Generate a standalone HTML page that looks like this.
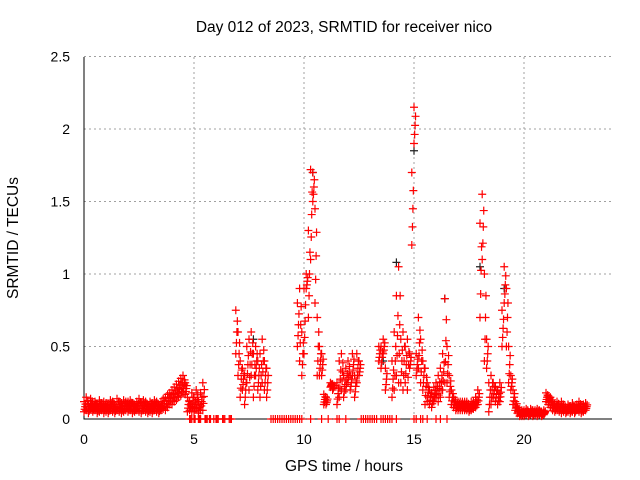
<!DOCTYPE html>
<html><head><meta charset="utf-8"><style>
body{margin:0;background:#fff}
svg{display:block;font-family:"Liberation Sans",sans-serif}
</style></head><body>
<svg id="chart" width="640" height="480" viewBox="0 0 640 480">
<rect width="640" height="480" fill="#fff"/>
<text x="344" y="32" font-size="15.5" text-anchor="middle" fill="#000">Day 012 of 2023, SRMTID for receiver nico</text>
<text x="344" y="471" font-size="15.5" text-anchor="middle" fill="#000">GPS time / hours</text>
<text x="18" y="238" font-size="15.5" text-anchor="middle" fill="#000" transform="rotate(-90 18 238)">SRMTID / TECUs</text>
<g id="grid"></g>
<g id="axes"></g>
<g id="marks"></g>
</svg>
<script>
const xTicks=[0,5,10,15,20];
const yTicks=[0,0.5,1,1.5,2,2.5];
const yTickLabels=["0","0.5","1","1.5","2","2.5"];
const times=[];for(let i=0;i<=228;i++)times.push(Math.round(i)/10);
const lo=[
.05,.06,.04,.07,.05,.06,.04,.05,.06,.04,
.05,.04,.06,.05,.04,.06,.05,.04,.05,.06,
.05,.06,.04,.05,.06,.05,.04,.06,.05,.04,
.05,.04,.06,.05,.04,.06,.07,.06,.08,.1,
.1,.12,.13,.15,.16,.18,.17,.05,.06,.05,
.05,.07,.04,.06,.06,null,null,null,null,null,
null,null,null,null,null,null,null,null,null,.45,
.3,.15,.2,.1,.25,.2,.3,.15,.3,.2,
.15,.25,.2,.15,null,null,null,null,null,null,
null,null,null,null,null,null,null,.5,.4,.3,
.45,.9,.7,1.1,1.5,.8,.3,.3,.3,.1,
.1,null,.22,.2,null,.1,.15,.2,.15,.2,
.25,.2,.3,.15,.25,.3,null,null,null,null,
null,null,null,null,.4,.35,.45,.2,null,null,
.15,.2,.3,.25,.25,.2,.25,.2,.35,1.2,
1.9,.3,.35,.25,.2,.1,.12,.1,.08,.12,
.15,.12,.15,.2,.25,.25,.15,.1,.08,.06,
.06,.06,.06,.06,.06,.05,.06,.07,.08,.1,
.7,1.1,.4,.35,.05,.1,.15,.12,.1,.12,
.5,.8,.5,.25,.2,.1,.06,.04,.02,.02,
.02,.03,.02,.03,.02,.03,.02,.03,.02,.03,
.12,.1,.08,.06,.05,.06,.05,.04,.05,.04,
.05,.04,.05,.04,.06,.05,.04,.05,.06];
const hi=[
.12,.15,.1,.14,.11,.12,.1,.13,.11,.12,
.11,.1,.13,.12,.1,.14,.12,.11,.13,.12,
.12,.13,.11,.1,.12,.14,.11,.13,.12,.1,
.12,.11,.13,.12,.1,.12,.14,.15,.17,.18,
.2,.22,.24,.26,.28,.3,.25,.15,.12,.18,
.15,.2,.12,.18,.25,null,null,null,null,null,
null,null,null,null,null,null,null,null,null,.75,
.6,.4,.35,.3,.5,.55,.6,.45,.5,.4,
.45,.55,.4,.35,null,null,null,null,null,null,
null,null,null,null,null,null,null,.8,.9,.6,
.9,1.0,1.3,1.72,1.7,1.45,.7,.5,.45,.17,
.15,null,.25,.24,null,.25,.4,.45,.3,.35,
.4,.3,.45,.3,.45,.4,null,null,null,null,
null,null,null,null,.5,.5,.55,.35,null,null,
.4,.6,.85,1.05,.55,.6,.5,.55,.45,1.7,
2.15,.45,.7,.55,.4,.35,.25,.2,.18,.22,
.25,.3,.35,.45,.83,.5,.3,.2,.15,.12,
.12,.12,.12,.12,.12,.1,.12,.12,.15,.2,
1.35,1.55,1.0,.55,.25,.3,.25,.22,.2,.25,
.75,1.05,.9,.5,.3,.2,.12,.08,.05,.06,
.06,.07,.05,.07,.06,.06,.07,.06,.05,.06,
.18,.16,.15,.12,.1,.12,.1,.12,.1,.08,
.1,.09,.11,.08,.1,.12,.09,.1,.11];
const zeroTimes=[4.8,4.85,4.9,5.0,5.05,5.2,5.25,5.3,5.5,5.55,5.6,5.7,5.75,5.9,6.0,6.05,6.1,6.3,6.35,6.4,6.6,6.65,6.7,8.5,8.6,8.7,8.8,8.9,9.0,9.1,9.2,9.3,9.4,9.5,9.6,9.7,9.8,9.9,10.3,10.8,11.1,11.5,11.6,11.9,12.6,12.7,12.8,12.9,13.0,13.1,13.2,13.3,13.5,13.6,13.7,13.8,13.9,14.0,14.2,15.0,15.1,15.3,15.4,15.6,16.0,16.2,16.5];
const blackTimes=[7.7,10.4,14.2,15.0,16.4,18.0,19.1,13.6];
const blackVals=[0.55,1.7,1.08,1.85,0.83,1.05,0.9,0.4];

const X0=84,XS=22,Y0=419,YS=145;
const xPos=t=>X0+t*XS, yPos=v=>Y0-v*YS;
const NS="http://www.w3.org/2000/svg";
const grid=document.getElementById('grid'),axes=document.getElementById('axes'),marks=document.getElementById('marks');
function mk(tag,attrs,parent){const e=document.createElementNS(NS,tag);for(const k in attrs)e.setAttribute(k,attrs[k]);parent.appendChild(e);return e;}
yTicks.forEach((v,i)=>{
 const y=yPos(v);
 if(v>0){const g=mk('line',{x1:X0,x2:612,y1:y,y2:y,stroke:'#a0a0a0','stroke-dasharray':'2,3'},grid);
 
 }
 const t=mk('text',{x:X0-14,y:y+5,'font-size':14,'text-anchor':'end'},axes);t.textContent=yTickLabels[i];
 
 
});
xTicks.forEach(v=>{
 const x=xPos(v);
 if(v>0){const g=mk('line',{x1:x,x2:x,y1:57,y2:Y0,stroke:'#a0a0a0','stroke-dasharray':'2,3'},grid);
 
 }
 const t=mk('text',{x:x,y:444,'font-size':14,'text-anchor':'middle'},axes);t.textContent=String(v);
 
 
});
const ax=mk('path',{d:`M${X0} 57V${Y0}H612`,stroke:'#000',fill:'none','stroke-width':1},axes);


function plus(x,y,c){const p=mk('path',{d:`M${x-4} ${y}h8M${x} ${y-4}v8`,stroke:c,'stroke-width':1.2,fill:'none'},marks);
 
 }
blackTimes.forEach((t,i)=>plus(xPos(t),yPos(blackVals[i]),'#222'));
times.forEach((t,i)=>{
 if(lo[i]!=null)plus(xPos(t),yPos(lo[i]),'#f00');
 if(hi[i]!=null)plus(xPos(t),yPos(hi[i]),'#f00');
 if(lo[i]!=null&&hi[i]!=null){
  plus(xPos(t+0.05),yPos((lo[i]+hi[i])/2),'#f00');
  plus(xPos(t+0.03),yPos(lo[i]+(hi[i]-lo[i])*0.25),'#f00');
  plus(xPos(t+0.07),yPos(lo[i]+(hi[i]-lo[i])*0.75),'#f00');
 }
});
zeroTimes.forEach(t=>plus(xPos(t),yPos(0),'#f00'));
</script>
</body></html>
